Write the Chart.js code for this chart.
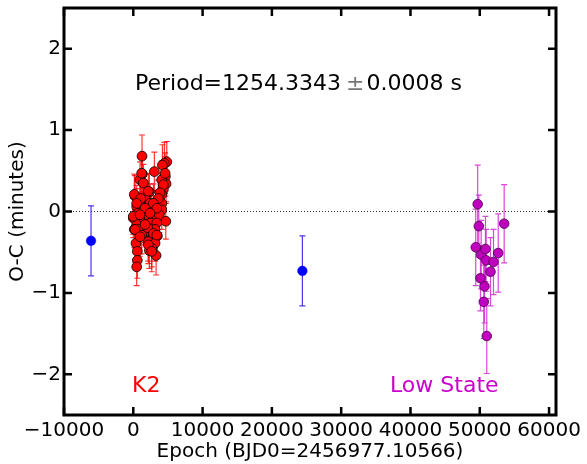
<!DOCTYPE html>
<html>
<head>
<meta charset="utf-8">
<script src="https://cdn.jsdelivr.net/npm/chart.js@4.4.0/dist/chart.umd.min.js"></script>
<style>
  html, body { margin: 0; padding: 0; background: #fff; }
  #wrap { width: 587px; height: 464px; }
</style>
</head>
<body>
<div id="wrap"><canvas id="ocChart" width="587" height="464"></canvas></div>
<script>
// axis ticks
const xTicks = [-10000, 0, 10000, 20000, 30000, 40000, 50000, 60000];
const yTicks = [-2, -1, 0, 1, 2];

// early timings (blue)
const blueX = [-6100, 24400];
const blueY = [-0.36, -0.73];
const blueErr = [0.43, 0.43];

// K2 campaign (red)
const k2X = [1260, 3040, 4830, 4490, 4200, 1300, 970, 4630, 4730, 4340,
  1450, 250, 2320, 1690, 970, 4110, 3620, 4110, 490, 2420,
  1450, 2660, 3390, 4110, 720, 1940, 0, 970, 2900, 3760,
  4690, 490, 1690, 2520, 3390, 150, 870, 2170, 3140, 1210,
  2900, 3470, 390, 2170, 3140, 2660, 580, 2320, 3290, 580,
  490, 1210, 150, 2170, 4110, 4340, 3860, 3620, 1070, 490,
  2900, 3390, 1690, 4590, 0, 970, 2420, 2080, 2900, 250,
  3390, 970, 1690, 2170, 2660];
const k2Y = [0.68, 0.49, 0.61, 0.59, 0.57, 0.46, 0.39, 0.43, 0.34, 0.27,
  0.35, 0.19, 0.24, 0.16, 0.12, 0.21, 0.14, 0.10, 0.06, 0.10,
  0.02, 0.00, 0.02, 0.02, -0.02, -0.04, -0.08, -0.10, -0.07, -0.04,
  -0.12, -0.16, -0.18, -0.14, -0.14, -0.22, -0.22, -0.25, -0.22, -0.29,
  -0.31, -0.30, -0.39, -0.37, -0.39, -0.45, -0.49, -0.48, -0.54, -0.60,
  -0.68, 0.47, 0.21, 0.25, 0.39, 0.33, 0.23, 0.16, 0.16, 0.10,
  0.10, 0.04, 0.04, 0.47, -0.06, -0.04, -0.02, -0.20, -0.27, -0.22,
  -0.29, -0.31, -0.16, -0.41, -0.49];
const k2Err = [0.26, 0.24, 0.25, 0.26, 0.25, 0.24, 0.22, 0.24, 0.22, 0.22,
  0.23, 0.25, 0.22, 0.22, 0.23, 0.22, 0.25, 0.22, 0.22, 0.24,
  0.22, 0.23, 0.22, 0.24, 0.22, 0.22, 0.24, 0.22, 0.23, 0.22,
  0.22, 0.22, 0.23, 0.22, 0.24, 0.22, 0.22, 0.24, 0.22, 0.23,
  0.22, 0.24, 0.22, 0.24, 0.22, 0.23, 0.22, 0.22, 0.24, 0.22,
  0.23, 0.24, 0.25, 0.22, 0.23, 0.22, 0.24, 0.22, 0.23, 0.22,
  0.24, 0.22, 0.23, 0.25, 0.22, 0.23, 0.22, 0.24, 0.22, 0.23,
  0.22, 0.24, 0.22, 0.23, 0.25];

// low state (magenta)
const lowX = [49700, 49860, 49420, 50200, 50820, 50920, 51980, 52660, 53520, 51550, 50100, 50680, 50580, 51010];
const lowY = [0.09, -0.18, -0.44, -0.53, -0.46, -0.60, -0.62, -0.51, -0.15, -0.74, -0.82, -0.92, -1.11, -1.53];
const lowErr = [0.48, 0.38, 0.47, 0.42, 0.40, 0.38, 0.40, 0.48, 0.48, 0.42, 0.40, 0.45, 0.45, 0.46];

const FONT = 'DejaVu Sans';
const pts = (xs, ys) => xs.map((x, i) => ({ x: x, y: ys[i] }));
const minus = v => String(v).replace('-', '\u2212');

// error bars + dotted zero line, drawn under the markers
const errorBars = {
  id: 'errorBars',
  beforeDatasetsDraw(chart) {
    const { ctx, chartArea: a, scales: { x, y } } = chart;
    ctx.save();
    ctx.beginPath();
    ctx.rect(a.left, a.top, a.right - a.left, a.bottom - a.top);
    ctx.clip();
    ctx.setLineDash([1, 2]);
    ctx.strokeStyle = '#333';
    ctx.lineWidth = 1;
    ctx.beginPath();
    ctx.moveTo(a.left, y.getPixelForValue(0));
    ctx.lineTo(a.right, y.getPixelForValue(0));
    ctx.stroke();
    ctx.setLineDash([]);
    chart.data.datasets.forEach(ds => {
      ctx.strokeStyle = ds.errColor;
      ctx.lineWidth = 1.2;
      ds.data.forEach((p, i) => {
        const px = x.getPixelForValue(p.x);
        const top = y.getPixelForValue(p.y + ds.errors[i]);
        const bot = y.getPixelForValue(p.y - ds.errors[i]);
        ctx.beginPath();
        ctx.moveTo(px, top); ctx.lineTo(px, bot);
        ctx.moveTo(px - 3, top); ctx.lineTo(px + 3, top);
        ctx.moveTo(px - 3, bot); ctx.lineTo(px + 3, bot);
        ctx.stroke();
      });
    });
    ctx.restore();
  }
};

// frame with inward ticks on all sides + text labels
const frame = {
  id: 'frame',
  afterDraw(chart) {
    const { ctx, chartArea: a, scales: { x, y } } = chart;
    ctx.save();
    ctx.strokeStyle = '#000';
    ctx.lineWidth = 2.5;
    ctx.beginPath();
    xTicks.forEach(v => {
      const px = x.getPixelForValue(v);
      ctx.moveTo(px, a.bottom); ctx.lineTo(px, a.bottom - 8);
      ctx.moveTo(px, a.top); ctx.lineTo(px, a.top + 8);
    });
    yTicks.forEach(v => {
      const py = y.getPixelForValue(v);
      ctx.moveTo(a.left, py); ctx.lineTo(a.left + 8, py);
      ctx.moveTo(a.right, py); ctx.lineTo(a.right - 8, py);
    });
    ctx.stroke();
    ctx.lineWidth = 3;
    ctx.strokeRect(a.left, a.top, a.right - a.left, a.bottom - a.top);

    ctx.textBaseline = 'alphabetic';
    ctx.textAlign = 'left';
    ctx.font = '22px "' + FONT + '"';
    let tx = 135;
    const part1 = 'Period=1254.3343';
    ctx.fillStyle = '#000';
    ctx.fillText(part1, tx, 90);
    tx += ctx.measureText(part1).width + 5;
    ctx.fillStyle = '#777';
    ctx.fillText('\u00b1', tx, 90);
    tx += ctx.measureText('\u00b1').width + 2;
    ctx.fillStyle = '#000';
    ctx.fillText('0.0008 s', tx, 90);

    ctx.fillStyle = '#ff0000';
    ctx.fillText('K2', 132, 392);
    ctx.fillStyle = '#cc00cc';
    ctx.fillText('Low State', 390, 392);
    ctx.restore();
  }
};

new Chart(document.getElementById('ocChart'), {
  type: 'scatter',
  data: {
    datasets: [
      {
        data: pts(blueX, blueY), errors: blueErr, errColor: 'rgba(60,30,230,0.9)',
        backgroundColor: '#0000ff', borderColor: '#0000ff', borderWidth: 0.5, pointRadius: 4.8
      },
      {
        data: pts(k2X, k2Y), errors: k2Err, errColor: 'rgba(255,0,0,0.8)',
        backgroundColor: '#ff0000', borderColor: '#000', borderWidth: 0.8, pointRadius: 4.9
      },
      {
        data: pts(lowX, lowY), errors: lowErr, errColor: 'rgba(210,40,210,0.85)',
        backgroundColor: '#bf00bf', borderColor: '#4a004a', borderWidth: 0.8, pointRadius: 4.8
      }
    ]
  },
  options: {
    responsive: false,
    animation: false,
    layout: { padding: { top: 8, right: 31, left: 0, bottom: 0 } },
    plugins: { legend: { display: false }, tooltip: { enabled: false } },
    scales: {
      x: {
        type: 'linear', min: -10000, max: 61000,
        afterBuildTicks: s => { s.ticks = xTicks.map(v => ({ value: v })); },
        afterFit: s => { s.height = 49; s.paddingLeft = 0; s.paddingRight = 0; },
        grid: { display: false, drawTicks: false, tickLength: 0 }, border: { display: false },
        ticks: {
          autoSkip: false, maxRotation: 0, padding: 4, color: '#000',
          font: { family: FONT, size: 20, lineHeight: 1.2 }, callback: v => minus(v)
        },
        title: {
          display: true, text: 'Epoch (BJD0=2456977.10566)', color: '#000',
          font: { family: FONT, size: 20 }, padding: { top: 0, bottom: 0 }
        }
      },
      y: {
        type: 'linear', min: -2.5, max: 2.5,
        afterBuildTicks: s => { s.ticks = yTicks.map(v => ({ value: v })); },
        afterFit: s => { s.width = 64; s.paddingTop = 0; s.paddingBottom = 0; },
        grid: { display: false, drawTicks: false, tickLength: 0 }, border: { display: false },
        ticks: {
          padding: 3, color: '#000',
          font: { family: FONT, size: 20 }, callback: v => minus(v)
        },
        title: {
          display: true, text: 'O-C (minutes)', color: '#000',
          font: { family: FONT, size: 20 }, padding: { top: 6, bottom: 0 }
        }
      }
    }
  },
  plugins: [errorBars, frame]
});
</script>
</body>
</html>
